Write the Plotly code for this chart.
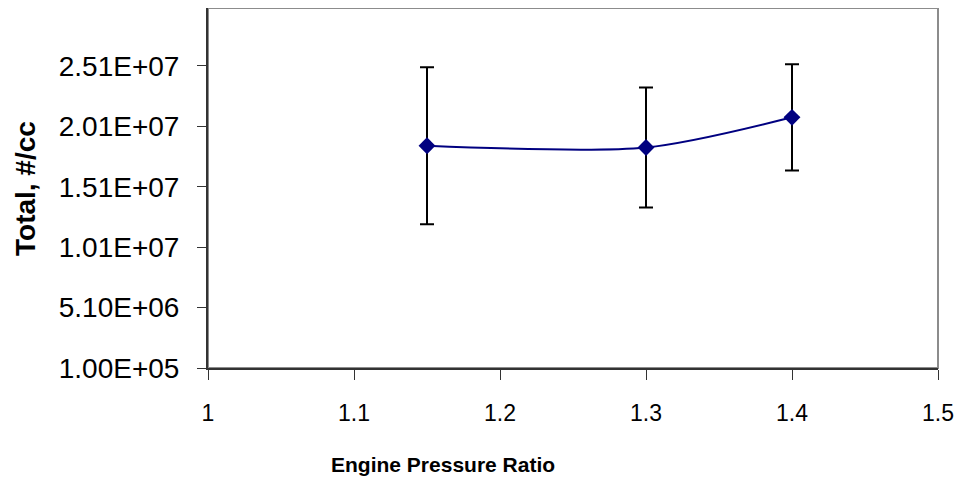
import plotly.graph_objects as go

# Data
epr = [1.15, 1.3, 1.4]
total_cc = [1.85e7, 1.835e7, 2.085e7]
total_err = [6.5e6, 4.97e6, 4.4e6]

y_tickvals = [1.0e5, 5.1e6, 1.01e7, 1.51e7, 2.01e7, 2.51e7]
y_ticktext = ["1.00E+05", "5.10E+06", "1.01E+07", "1.51E+07", "2.01E+07", "2.51E+07"]
x_tickvals = [1, 1.1, 1.2, 1.3, 1.4, 1.5]
x_ticktext = ["1", "1.1", "1.2", "1.3", "1.4", "1.5"]

NAVY = "#000080"
FONT = "Liberation Sans, Arial, sans-serif"

# page body has an 8px margin, so the figure sits 8px right/down of the window corner
L, R, T, B = 200, 34, 0, 127
PLOT_W = 964 - L - R
PLOT_H = 487 - T - B

fig = go.Figure()

fig.add_trace(
    go.Scatter(
        x=epr,
        y=total_cc,
        mode="lines+markers",
        line=dict(color=NAVY, width=2, shape="spline", smoothing=0.8),
        marker=dict(symbol="diamond", size=13, color=NAVY),
        error_y=dict(
            type="data",
            array=total_err,
            visible=True,
            color="black",
            thickness=2,
            width=7,
        ),
        showlegend=False,
    )
)

# plot-area border (grey top/right), axes drawn darker on top
fig.add_shape(
    type="rect",
    xref="paper", yref="paper",
    x0=0, x1=1, y0=0, y1=1,
    line=dict(color="#8c8c8c", width=2),
    layer="below",
)

fig.update_layout(
    width=964,
    height=487,
    margin=dict(l=L, r=R, t=T, b=B),
    paper_bgcolor="white",
    plot_bgcolor="white",
    font=dict(family=FONT, color="black"),
    xaxis=dict(
        range=[1, 1.5],
        tickvals=x_tickvals,
        ticktext=x_ticktext,
        showgrid=False,
        zeroline=False,
        showline=True,
        linecolor="#333333",
        linewidth=2,
        ticks="outside",
        ticklen=10,
        tickwidth=1,
        tickcolor="#333333",
        tickfont=dict(family=FONT, size=23, color="black"),
        ticklabelstandoff=13,
    ),
    yaxis=dict(
        range=[1.0e5, 2.99e7],
        tickvals=y_tickvals,
        ticktext=y_ticktext,
        showgrid=False,
        zeroline=False,
        showline=True,
        linecolor="#333333",
        linewidth=2,
        ticks="outside",
        ticklen=9,
        tickwidth=1,
        tickcolor="#333333",
        tickfont=dict(family=FONT, size=28, color="black"),
        ticklabelstandoff=12,
    ),
    annotations=[
        dict(
            text="<b>Engine Pressure Ratio</b>",
            xref="paper", yref="paper",
            x=(435 - L) / PLOT_W, y=-(456 - (487 - B)) / PLOT_H,
            xanchor="center", yanchor="middle",
            showarrow=False,
            font=dict(family=FONT, size=21, color="black"),
        ),
        dict(
            text="<b>Total, #/cc</b>",
            xref="paper", yref="paper",
            x=(17 - L) / PLOT_W, y=0.5,
            xanchor="center", yanchor="middle",
            textangle=-90,
            showarrow=False,
            font=dict(family=FONT, size=28, color="black"),
        ),
    ],
)

fig.write_html("out.html")
